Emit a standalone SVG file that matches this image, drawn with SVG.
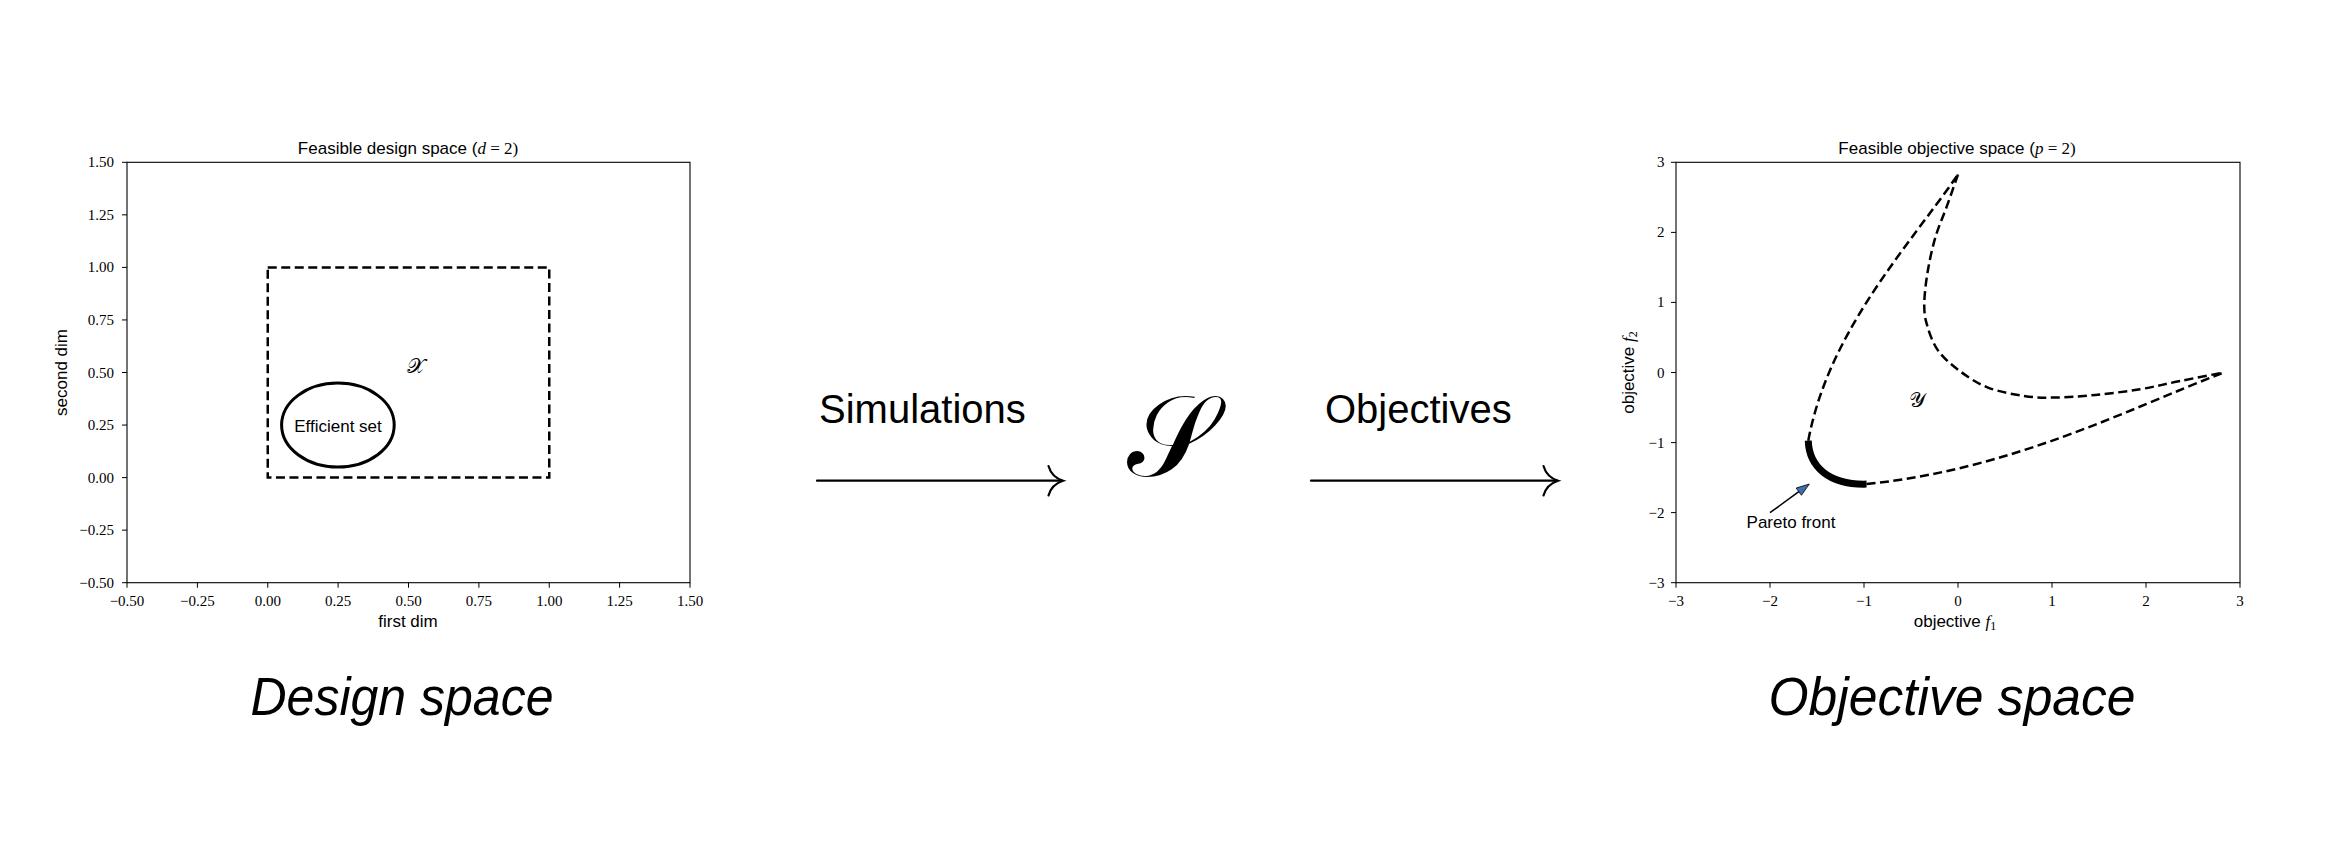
<svg xmlns="http://www.w3.org/2000/svg" width="2350" height="842" viewBox="0 0 2350 842">
<style>
.ax{fill:none;stroke:#000;stroke-width:1.1}
.tk{stroke:#000;stroke-width:1}
.tl{font-family:"Liberation Serif",serif;font-size:15px;fill:#000}
.tly{text-anchor:end}
.tlx{text-anchor:middle}
.lab{font-family:"Liberation Sans",sans-serif;font-size:17px;fill:#000}
.math{font-family:"Liberation Serif",serif;font-style:italic}
.mathr{font-family:"Liberation Serif",serif}
.dash{fill:none;stroke:#000;stroke-width:2.5;stroke-dasharray:9 4.5}
.big{font-family:"Liberation Sans",sans-serif;font-size:40px;fill:#000}
.cap{font-family:"Liberation Sans",sans-serif;font-size:53px;font-style:italic;fill:#000;text-anchor:middle}
.script{font-family:"DejaVu Serif","Noto Sans","DejaVu Sans",serif;fill:#000;text-anchor:middle}
.conn{fill:none;stroke:#000;stroke-width:2.2;stroke-linecap:round}
</style>
<rect width="2350" height="842" fill="#fff"/>

<g id="design-space">
  <text class="lab" x="408" y="154" text-anchor="middle">Feasible design space (<tspan class="math">d</tspan><tspan class="mathr"> = 2)</tspan></text>
  <rect class="ax" x="127" y="162.3" width="563" height="420.4"/>
  <g class="tk">
    <line x1="122" y1="162.3" x2="127" y2="162.3"/><line x1="122" y1="214.85" x2="127" y2="214.85"/>
    <line x1="122" y1="267.4" x2="127" y2="267.4"/><line x1="122" y1="319.95" x2="127" y2="319.95"/>
    <line x1="122" y1="372.5" x2="127" y2="372.5"/><line x1="122" y1="425.05" x2="127" y2="425.05"/>
    <line x1="122" y1="477.6" x2="127" y2="477.6"/><line x1="122" y1="530.15" x2="127" y2="530.15"/>
    <line x1="122" y1="582.7" x2="127" y2="582.7"/>
    <line x1="127" y1="582.7" x2="127" y2="587.7"/><line x1="197.4" y1="582.7" x2="197.4" y2="587.7"/>
    <line x1="267.75" y1="582.7" x2="267.75" y2="587.7"/><line x1="338.1" y1="582.7" x2="338.1" y2="587.7"/>
    <line x1="408.5" y1="582.7" x2="408.5" y2="587.7"/><line x1="478.9" y1="582.7" x2="478.9" y2="587.7"/>
    <line x1="549.25" y1="582.7" x2="549.25" y2="587.7"/><line x1="619.6" y1="582.7" x2="619.6" y2="587.7"/>
    <line x1="690" y1="582.7" x2="690" y2="587.7"/>
  </g>
  <g class="tl tly">
    <text x="114" y="167.3">1.50</text><text x="114" y="219.85">1.25</text>
    <text x="114" y="272.4">1.00</text><text x="114" y="324.95">0.75</text>
    <text x="114" y="377.5">0.50</text><text x="114" y="430.05">0.25</text>
    <text x="114" y="482.6">0.00</text><text x="114" y="535.15">−0.25</text>
    <text x="114" y="587.7">−0.50</text>
  </g>
  <g class="tl tlx">
    <text x="127" y="606">−0.50</text><text x="197.4" y="606">−0.25</text>
    <text x="267.75" y="606">0.00</text><text x="338.1" y="606">0.25</text>
    <text x="408.5" y="606">0.50</text><text x="478.9" y="606">0.75</text>
    <text x="549.25" y="606">1.00</text><text x="619.6" y="606">1.25</text>
    <text x="690" y="606">1.50</text>
  </g>
  <text class="lab" x="408" y="627" text-anchor="middle">first dim</text>
  <text class="lab" transform="translate(67,372.5) rotate(-90)" text-anchor="middle">second dim</text>
  <rect class="dash" x="267.75" y="267.4" width="281.5" height="210.2"/>
  <ellipse cx="337.9" cy="425.05" rx="56.3" ry="42" fill="none" stroke="#000" stroke-width="3"/>
  <text class="lab" x="338" y="432" text-anchor="middle" font-size="15">Efficient set</text>
  <text class="script" x="416" y="373" font-size="21">𝒳</text>
</g>

<g id="simulator">
  <text class="script" x="1171" y="476" font-size="115">𝒮</text>
</g>

<g id="objective-space">
  <text class="lab" x="1957" y="154" text-anchor="middle">Feasible objective space (<tspan class="math">p</tspan><tspan class="mathr"> = 2)</tspan></text>
  <rect class="ax" x="1676" y="162.3" width="564" height="420.4"/>
  <g class="tk">
    <line x1="1671" y1="162.3" x2="1676" y2="162.3"/><line x1="1671" y1="232.4" x2="1676" y2="232.4"/>
    <line x1="1671" y1="302.4" x2="1676" y2="302.4"/><line x1="1671" y1="372.5" x2="1676" y2="372.5"/>
    <line x1="1671" y1="442.6" x2="1676" y2="442.6"/><line x1="1671" y1="512.6" x2="1676" y2="512.6"/>
    <line x1="1671" y1="582.7" x2="1676" y2="582.7"/>
    <line x1="1676" y1="582.7" x2="1676" y2="587.7"/><line x1="1770" y1="582.7" x2="1770" y2="587.7"/>
    <line x1="1864" y1="582.7" x2="1864" y2="587.7"/><line x1="1958" y1="582.7" x2="1958" y2="587.7"/>
    <line x1="2052" y1="582.7" x2="2052" y2="587.7"/><line x1="2146" y1="582.7" x2="2146" y2="587.7"/>
    <line x1="2240" y1="582.7" x2="2240" y2="587.7"/>
  </g>
  <g class="tl tly">
    <text x="1664.5" y="167.3">3</text><text x="1664.5" y="237.4">2</text>
    <text x="1664.5" y="307.4">1</text><text x="1664.5" y="377.5">0</text>
    <text x="1664.5" y="447.6">−1</text><text x="1664.5" y="517.6">−2</text>
    <text x="1664.5" y="587.7">−3</text>
  </g>
  <g class="tl tlx">
    <text x="1676" y="606">−3</text><text x="1770" y="606">−2</text>
    <text x="1864" y="606">−1</text><text x="1958" y="606">0</text>
    <text x="2052" y="606">1</text><text x="2146" y="606">2</text>
    <text x="2240" y="606">3</text>
  </g>
  <text class="lab" x="1955" y="627" text-anchor="middle">objective <tspan class="math">f</tspan><tspan class="mathr" font-size="12" dy="3">1</tspan></text>
  <text class="lab" transform="translate(1634,372.5) rotate(-90)" text-anchor="middle">objective <tspan class="math">f</tspan><tspan class="mathr" font-size="12" dy="3">2</tspan></text>
  <path class="dash" d="M1808.3,440.7 C1828.1,332.9 1906.7,248.3 1958,174.5"/>
  <path class="dash" d="M1958,174.48 C1956.1,179.88 1950.38,196.46 1946.63,206.85 C1942.89,217.24 1938.65,226.28 1935.53,236.84 C1932.41,247.4 1929.78,259.37 1927.92,270.2 C1926.06,281.03 1924.57,292.93 1924.35,301.8 C1924.13,310.68 1924.36,315.39 1926.6,323.45 C1928.84,331.51 1932.24,342.21 1937.79,350.15 C1943.34,358.09 1951.52,364.86 1959.88,371.1 C1968.25,377.33 1977.33,383.43 1987.98,387.57 C1998.63,391.7 2012.99,394.24 2023.8,395.91 C2034.61,397.58 2040.93,397.75 2052.85,397.58 C2064.74,397.42 2080.71,396.31 2095.24,394.92 C2109.77,393.54 2125.82,391.58 2139.99,389.25 C2154.16,386.92 2166.28,383.76 2180.22,380.98 C2194.16,378.18 2216.4,373.92 2223.64,372.5"/>
  <path class="dash" d="M1866.51,484.09 C2011.12,469.33 2124.62,410.74 2223.64,372.5"/>
  <path d="M1808.26,440.68 C1809,466 1828,485 1866.54,484.12" fill="none" stroke="#000" stroke-width="7"/>
  <text class="script" x="1917" y="407" font-size="21">𝒴</text>
  <line x1="1770" y1="512.7" x2="1799.5" y2="491.2" stroke="#000" stroke-width="1.6"/>
  <polygon points="1809.3,484 1801.46,495.29 1796.16,488.03" fill="#3d6fa8" stroke="#000" stroke-width="0.8"/>
  <text class="lab" x="1791" y="528" text-anchor="middle" font-size="15">Pareto front</text>
</g>

<g id="connectors">
  <g id="arrow-simulations">
    <line class="conn" x1="817" y1="480.7" x2="1062" y2="480.7"/>
    <path class="conn" d="M1048.5,466 C1050.5,473 1056,478.5 1063,480.7 C1056,483 1050.5,488 1048.5,495.5"/>
  </g>
  <g id="arrow-objectives">
    <line class="conn" x1="1311" y1="480.7" x2="1557" y2="480.7"/>
    <path class="conn" d="M1543.5,466 C1545.5,473 1551,478.5 1558,480.7 C1551,483 1545.5,488 1543.5,495.5"/>
  </g>
</g>

<g id="labels">
  <text class="big" x="819" y="423">Simulations</text>
  <text class="big" x="1325" y="423">Objectives</text>
  <text class="cap" x="402" y="715" textLength="303" lengthAdjust="spacingAndGlyphs">Design space</text>
  <text class="cap" x="1952" y="715" textLength="367" lengthAdjust="spacingAndGlyphs">Objective space</text>
</g>
</svg>
